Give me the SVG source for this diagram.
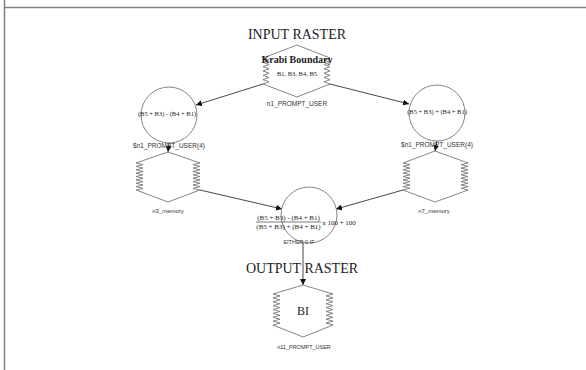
<svg xmlns="http://www.w3.org/2000/svg" width="586" height="370" viewBox="0 0 586 370">
<defs>
<style>
.frame{stroke:#808080;stroke-width:1.5;fill:none}
.hex{fill:none;stroke:#777;stroke-width:0.9}
.circ{fill:none;stroke:#777;stroke-width:0.9}
.edge{stroke:#333;stroke-width:0.9;fill:none;marker-end:url(#arr)}
.big{font-family:"Liberation Serif",serif;font-size:14px;fill:#222;text-anchor:middle}
.serif{font-family:"Liberation Serif",serif;fill:#222;text-anchor:middle}
.sans{font-family:"Liberation Sans",sans-serif;fill:#333;text-anchor:middle}
</style>
<marker id="arr" viewBox="0 0 10 10" refX="10" refY="5" markerWidth="6" markerHeight="6" markerUnits="userSpaceOnUse" orient="auto">
<path d="M0,0 L10,5 L0,10 Z" fill="#111"/>
</marker>
</defs>
<rect width="586" height="370" fill="#fff"/>
<line class="frame" x1="4.5" y1="0" x2="4.5" y2="370"/>
<line class="frame" x1="4.5" y1="7.5" x2="586" y2="7.5"/>

<text class="big" x="297" y="39">INPUT RASTER</text>
<text class="big" x="302" y="273">OUTPUT RASTER</text>

<g id="connectors">
<line class="edge" x1="263" y1="84" x2="196" y2="105"/>
<line class="edge" x1="330" y1="84" x2="409" y2="104"/>
<line class="edge" x1="169" y1="143" x2="168" y2="152"/>
<line class="edge" x1="437" y1="141" x2="435" y2="151"/>
<line class="edge" x1="200" y1="190" x2="282" y2="209"/>
<line class="edge" x1="403" y1="190" x2="336" y2="209"/>
<line class="edge" x1="303" y1="242" x2="303" y2="285"/>
</g>

<g id="n1">
<path class="hex" d="M297,45 L263,58 l6,2.1667 l-6,2.1667 l6,2.1667 l-6,2.1667 l6,2.1667 l-6,2.1667 l6,2.1667 l-6,2.1667 l6,2.1667 l-6,2.1667 l6,2.1667 l-6,2.1667 L297,97 L330,84 l-6,-2.1667 l6,-2.1667 l-6,-2.1667 l6,-2.1667 l-6,-2.1667 l6,-2.1667 l-6,-2.1667 l6,-2.1667 l-6,-2.1667 l6,-2.1667 l-6,-2.1667 l6,-2.1667 Z"/>
<text class="serif" x="297" y="63" font-size="11" font-weight="bold" textLength="71" lengthAdjust="spacingAndGlyphs">Krabi Boundary</text>
<text class="serif" x="297" y="76" font-size="6.5">B1, B3, B4, B5</text>
<text class="sans" x="297" y="106" font-size="6.5">n1_PROMPT_USER</text>
</g>

<g id="n2">
<circle class="circ" cx="169" cy="115" r="28"/>
<text class="serif" x="167" y="116" font-size="6.5">(B5 + B3) - (B4 + B1)</text>
<text class="sans" x="169" y="148" font-size="6.5">$n1_PROMPT_USER(4)</text>
</g>

<g id="n6">
<circle class="circ" cx="437" cy="113" r="28"/>
<text class="serif" x="437" y="114" font-size="6.5">(B5 + B3) + (B4 + B1)</text>
<text class="sans" x="437" y="147" font-size="6.5">$n1_PROMPT_USER(4)</text>
</g>

<g id="n3">
<path class="hex" d="M168,152 L136,163 l7,1.6875 l-7,1.6875 l7,1.6875 l-7,1.6875 l7,1.6875 l-7,1.6875 l7,1.6875 l-7,1.6875 l7,1.6875 l-7,1.6875 l7,1.6875 l-7,1.6875 l7,1.6875 l-7,1.6875 l7,1.6875 l-7,1.6875 L168,202 L200,190 l-7,-1.6875 l7,-1.6875 l-7,-1.6875 l7,-1.6875 l-7,-1.6875 l7,-1.6875 l-7,-1.6875 l7,-1.6875 l-7,-1.6875 l7,-1.6875 l-7,-1.6875 l7,-1.6875 l-7,-1.6875 l7,-1.6875 l-7,-1.6875 l7,-1.6875 Z"/>
<text class="sans" x="168" y="213" font-size="6">n3_memory</text>
</g>

<g id="n7">
<path class="hex" d="M435,151 L403,163 l7,1.6875 l-7,1.6875 l7,1.6875 l-7,1.6875 l7,1.6875 l-7,1.6875 l7,1.6875 l-7,1.6875 l7,1.6875 l-7,1.6875 l7,1.6875 l-7,1.6875 l7,1.6875 l-7,1.6875 l7,1.6875 l-7,1.6875 L435,202 L468,190 l-7,-1.6875 l7,-1.6875 l-7,-1.6875 l7,-1.6875 l-7,-1.6875 l7,-1.6875 l-7,-1.6875 l7,-1.6875 l-7,-1.6875 l7,-1.6875 l-7,-1.6875 l7,-1.6875 l-7,-1.6875 l7,-1.6875 l-7,-1.6875 l7,-1.6875 Z"/>
<text class="sans" x="434" y="213" font-size="6">n7_memory</text>
</g>

<g id="n9">
<circle class="circ" cx="309" cy="215" r="28"/>
<text class="serif" x="288.5" y="219.5" font-size="7">(B5 + B3) - (B4 + B1)</text>
<line x1="256" y1="222" x2="321" y2="222" stroke="#222" stroke-width="0.6"/>
<text class="serif" x="288.5" y="228.5" font-size="7">(B5 + B3) + (B4 + B1)</text>
<text class="serif" x="339" y="224.5" font-size="7">x 100 + 100</text>
<text class="sans" x="299" y="244" font-size="5.5">EITHER 0 IF</text>
</g>

<g id="n11">
<path class="hex" d="M303,285 L273,294 l7,1.9375 l-7,1.9375 l7,1.9375 l-7,1.9375 l7,1.9375 l-7,1.9375 l7,1.9375 l-7,1.9375 l7,1.9375 l-7,1.9375 l7,1.9375 l-7,1.9375 l7,1.9375 l-7,1.9375 l7,1.9375 l-7,1.9375 L303,337 L333,325 l-7,-1.9375 l7,-1.9375 l-7,-1.9375 l7,-1.9375 l-7,-1.9375 l7,-1.9375 l-7,-1.9375 l7,-1.9375 l-7,-1.9375 l7,-1.9375 l-7,-1.9375 l7,-1.9375 l-7,-1.9375 l7,-1.9375 l-7,-1.9375 l7,-1.9375 Z"/>
<text class="serif" x="303" y="315" font-size="12">BI</text>
<text class="sans" x="304" y="349" font-size="5.5">n11_PROMPT_USER</text>
</g>
</svg>
